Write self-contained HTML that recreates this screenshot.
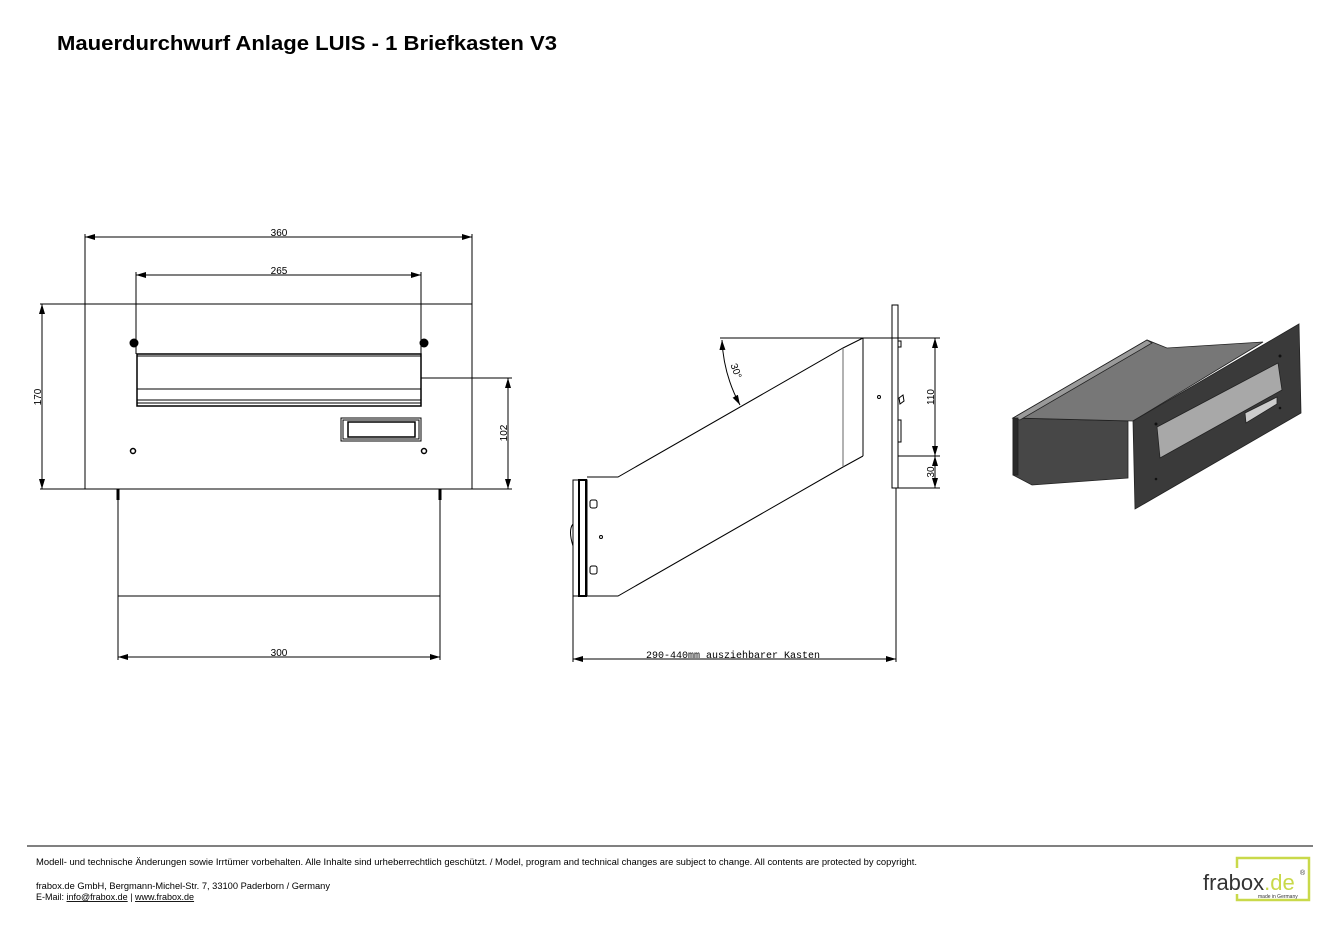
<!DOCTYPE html>
<html><head><meta charset="utf-8"><style>
html,body{margin:0;padding:0;background:#fff;width:1339px;height:926px;overflow:hidden}
svg{display:block}
</style></head><body>
<svg width="1339" height="926" viewBox="0 0 1339 926" xmlns="http://www.w3.org/2000/svg" font-family="Liberation Sans, sans-serif">
<defs>
<marker id="a" viewBox="0 0 10 6" refX="10" refY="3" markerWidth="10" markerHeight="6" orient="auto-start-reverse" markerUnits="userSpaceOnUse"><path d="M0,0 L10,3 L0,6z" fill="#000"/></marker>
</defs>
<text x="57" y="50" font-size="20" font-weight="bold" textLength="500" lengthAdjust="spacingAndGlyphs">Mauerdurchwurf Anlage LUIS - 1 Briefkasten V3</text>

<g stroke="#000" fill="none" stroke-width="1">
<!-- front view -->
<line x1="40" y1="304" x2="472" y2="304"/>
<line x1="85" y1="234" x2="85" y2="489"/>
<line x1="472" y1="234" x2="472" y2="489"/>
<line x1="40" y1="489" x2="512" y2="489"/>
<line x1="85" y1="237" x2="472" y2="237" marker-start="url(#a)" marker-end="url(#a)"/>
<line x1="136" y1="272" x2="136" y2="354"/>
<line x1="421" y1="272" x2="421" y2="354"/>
<line x1="136" y1="275" x2="421" y2="275" marker-start="url(#a)" marker-end="url(#a)"/>
<line x1="42" y1="304" x2="42" y2="489" marker-start="url(#a)" marker-end="url(#a)"/>
<line x1="421" y1="378" x2="512" y2="378"/>
<line x1="508" y1="378" x2="508" y2="489" marker-start="url(#a)" marker-end="url(#a)"/>
<rect x="137" y="354" width="284" height="52" stroke-width="1.5"/>
<line x1="137" y1="356" x2="421" y2="356"/>
<line x1="137" y1="389" x2="421" y2="389"/>
<line x1="137" y1="400" x2="421" y2="400"/>
<line x1="137" y1="403" x2="421" y2="403"/>
<rect x="341" y="418" width="80" height="23"/>
<rect x="343" y="420" width="76" height="19"/>
<rect x="348" y="422" width="67" height="15" stroke-width="1.5"/>
<circle cx="133" cy="451" r="2.5" stroke-width="1.5"/>
<circle cx="424" cy="451" r="2.5" stroke-width="1.5"/>
<line x1="118" y1="489" x2="118" y2="660" />
<line x1="440" y1="489" x2="440" y2="660" />
<line x1="118" y1="489" x2="118" y2="500" stroke-width="3"/>
<line x1="440" y1="489" x2="440" y2="500" stroke-width="3"/>
<line x1="118" y1="596" x2="440" y2="596"/>
<line x1="118" y1="657" x2="440" y2="657" marker-start="url(#a)" marker-end="url(#a)"/>

<!-- side view -->
<rect x="892" y="305" width="6" height="183"/>
<line x1="720" y1="338" x2="940" y2="338"/>
<line x1="898" y1="456" x2="940" y2="456"/>
<line x1="898" y1="488" x2="940" y2="488"/>
<line x1="935" y1="338" x2="935" y2="456" marker-start="url(#a)" marker-end="url(#a)"/>
<line x1="935" y1="456" x2="935" y2="488" marker-start="url(#a)" marker-end="url(#a)"/>
<line x1="863" y1="338" x2="863" y2="456"/>
<polyline points="863,338 843,348 618,477 587,477"/>
<polyline points="863,456 843,467 618,596 587,596"/>
<line x1="843" y1="348" x2="843" y2="467" stroke="#666"/>
<path d="M722,340 A150,150 0 0 0 740,405" marker-start="url(#a)" marker-end="url(#a)"/>
<circle cx="879" cy="397" r="1.5"/>
<path d="M898,341 h3 v6 h-3 M898,420 h3 v22 h-3 M899,398 l4,-3 l1,6 l-4,3z"/>
<rect x="573" y="480" width="14" height="116"/>
<rect x="579" y="480" width="7" height="116" stroke-width="2"/>
<path d="M573,524 q-5,6 0,22"/>
<rect x="590" y="500" width="7" height="8" rx="2"/>
<rect x="590" y="566" width="7" height="8" rx="2"/>
<circle cx="601" cy="537" r="1.5"/>
<line x1="573" y1="596" x2="573" y2="662"/>
<line x1="896" y1="488" x2="896" y2="662"/>
<line x1="573" y1="659" x2="896" y2="659" marker-start="url(#a)" marker-end="url(#a)"/>
</g>
<g fill="#000" stroke="none">
<circle cx="134" cy="343" r="4.5"/>
<circle cx="424" cy="343" r="4.5"/>
</g>
<g font-size="10" text-anchor="middle" fill="#000">
<text x="279" y="236">360</text>
<text x="279" y="274">265</text>
<text x="279" y="656">300</text>
<text transform="translate(41,397) rotate(-90)">170</text>
<text transform="translate(507,433) rotate(-90)">102</text>
<text transform="translate(934,397) rotate(-90)">110</text>
<text transform="translate(934,472) rotate(-90)">30</text>
<text transform="translate(733,372) rotate(70)">30°</text>
<text x="733" y="658" font-family="Liberation Mono, monospace" font-size="10">290-440mm ausziehbarer Kasten</text>
</g>

<!-- 3D view -->
<g stroke="#222" stroke-width="0.8">
<polygon points="1013,418 1128,421 1128,478 1032,485 1013,475" fill="#474747"/>
<polygon points="1013,418 1147,340 1167,348 1263,342 1133,421" fill="#777"/>
<polygon points="1013,418 1147,340 1152,343 1020,420" fill="#9a9a9a"/>
<polygon points="1133,421 1299,324 1301,413 1135,509" fill="#3a3a3a"/>
<polygon points="1157,427 1278,363 1282,390 1160,458" fill="#a8a8a8"/>
<polygon points="1245,413 1277,397 1277,404 1246,423" fill="#ccc"/>
<rect x="1013" y="418" width="5" height="57" fill="#2a2a2a"/>
</g>
<g fill="#111"><circle cx="1156" cy="424" r="1.5"/><circle cx="1280" cy="356" r="1.5"/><circle cx="1156" cy="479" r="1.3"/><circle cx="1280" cy="408" r="1.3"/></g>

<!-- footer -->
<line x1="27" y1="846" x2="1313" y2="846" stroke="#000" stroke-width="1"/>
<g font-size="9" fill="#000">
<text x="36" y="865" textLength="881" lengthAdjust="spacingAndGlyphs">Modell- und technische Änderungen sowie Irrtümer vorbehalten. Alle Inhalte sind urheberrechtlich geschützt. / Model, program and technical changes are subject to change. All contents are protected by copyright.</text>
<text x="36" y="889" textLength="294" lengthAdjust="spacingAndGlyphs">frabox.de GmbH, Bergmann-Michel-Str. 7, 33100 Paderborn / Germany</text>
<text x="36" y="900">E-Mail: <tspan text-decoration="underline">info@frabox.de</tspan> | <tspan text-decoration="underline">www.frabox.de</tspan></text>
</g>
<rect x="1237" y="858" width="72" height="42" fill="none" stroke="#c9d94a" stroke-width="2.5"/>
<rect x="1200" y="868" width="60" height="26" fill="#fff"/>
<text x="1203" y="890" font-size="22" fill="#333">frabox<tspan fill="#c9d94a">.de</tspan></text>
<text x="1300" y="875" font-size="7" fill="#333">®</text>
<text x="1258" y="898" font-size="5" fill="#333">made in Germany</text>
</svg>
</body></html>
